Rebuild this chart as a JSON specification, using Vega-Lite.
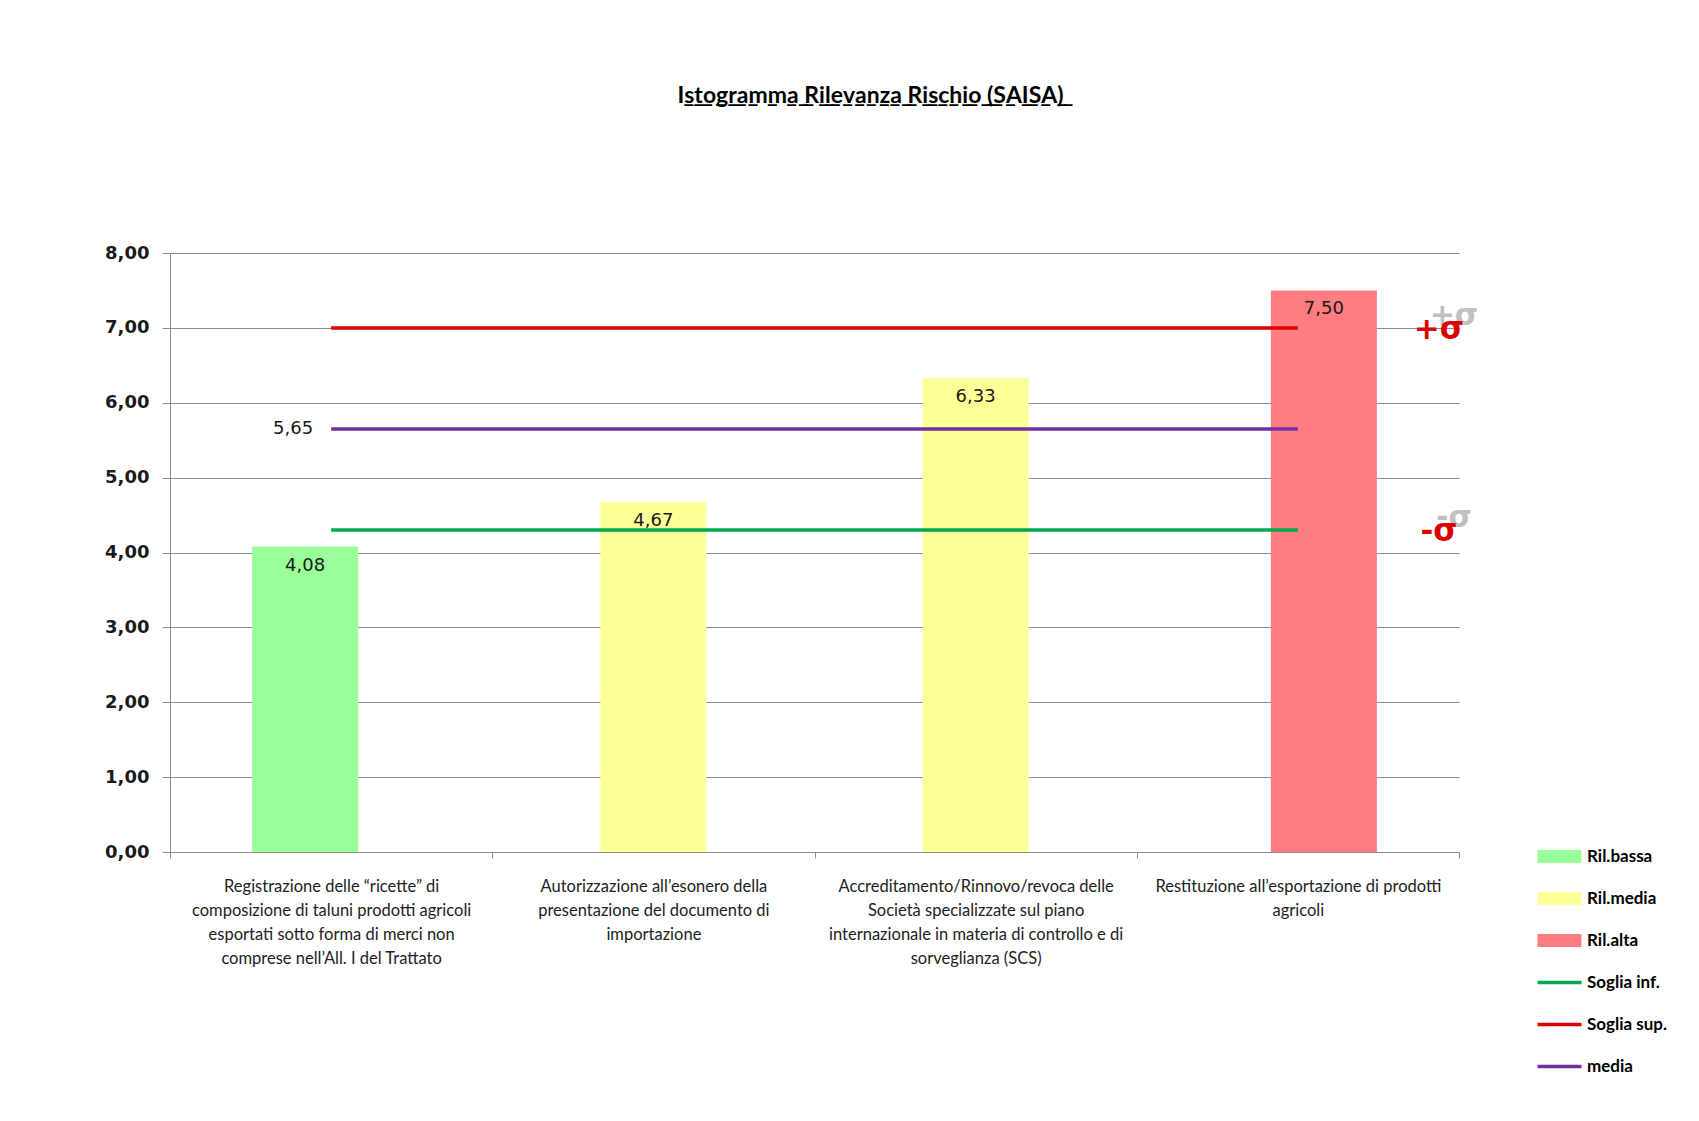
{
  "$schema": "https://vega.github.io/schema/vega-lite/v6.json",
  "autosize": "none",
  "width": 1289,
  "height": 599,
  "padding": {"left": 170, "top": 253, "right": 240, "bottom": 269},
  "background": "white",
  "title": {
    "text": "I\u0332s\u0332t\u0332o\u0332g\u0332r\u0332a\u0332m\u0332m\u0332a\u0332 \u0332R\u0332i\u0332l\u0332e\u0332v\u0332a\u0332n\u0332z\u0332a\u0332 \u0332R\u0332i\u0332s\u0332c\u0332h\u0332i\u0332o\u0332 \u0332(\u0332S\u0332A\u0332I\u0332S\u0332A\u0332)\u0332",
    "anchor": "middle",
    "frame": "group",
    "dx": 56,
    "offset": 136,
    "font": "Lato",
    "fontSize": 23,
    "fontWeight": "bold",
    "color": "#000000"
  },
  "config": {
    "view": {"stroke": null}
  },
  "datasets": {
    "bars": [
      {"cat": "Registrazione delle “ricette” di composizione di taluni prodotti agricoli esportati sotto forma di merci non comprese nell’All. I del Trattato", "serie": "Ril.bassa", "value": 4.08},
      {"cat": "Autorizzazione all’esonero della presentazione del documento di importazione", "serie": "Ril.media", "value": 4.67},
      {"cat": "Accreditamento/Rinnovo/revoca delle Società specializzate sul piano internazionale in materia di controllo e di sorveglianza (SCS)", "serie": "Ril.media", "value": 6.33},
      {"cat": "Restituzione all’esportazione di prodotti agricoli", "serie": "Ril.alta", "value": 7.50}
    ],
    "lines": [
      {"cat": "Registrazione delle “ricette” di composizione di taluni prodotti agricoli esportati sotto forma di merci non comprese nell’All. I del Trattato", "serie": "Soglia inf.", "value": 4.30},
      {"cat": "Autorizzazione all’esonero della presentazione del documento di importazione", "serie": "Soglia inf.", "value": 4.30},
      {"cat": "Accreditamento/Rinnovo/revoca delle Società specializzate sul piano internazionale in materia di controllo e di sorveglianza (SCS)", "serie": "Soglia inf.", "value": 4.30},
      {"cat": "Restituzione all’esportazione di prodotti agricoli", "serie": "Soglia inf.", "value": 4.30},
      {"cat": "Registrazione delle “ricette” di composizione di taluni prodotti agricoli esportati sotto forma di merci non comprese nell’All. I del Trattato", "serie": "Soglia sup.", "value": 7.00},
      {"cat": "Autorizzazione all’esonero della presentazione del documento di importazione", "serie": "Soglia sup.", "value": 7.00},
      {"cat": "Accreditamento/Rinnovo/revoca delle Società specializzate sul piano internazionale in materia di controllo e di sorveglianza (SCS)", "serie": "Soglia sup.", "value": 7.00},
      {"cat": "Restituzione all’esportazione di prodotti agricoli", "serie": "Soglia sup.", "value": 7.00},
      {"cat": "Registrazione delle “ricette” di composizione di taluni prodotti agricoli esportati sotto forma di merci non comprese nell’All. I del Trattato", "serie": "media", "value": 5.65},
      {"cat": "Autorizzazione all’esonero della presentazione del documento di importazione", "serie": "media", "value": 5.65},
      {"cat": "Accreditamento/Rinnovo/revoca delle Società specializzate sul piano internazionale in materia di controllo e di sorveglianza (SCS)", "serie": "media", "value": 5.65},
      {"cat": "Restituzione all’esportazione di prodotti agricoli", "serie": "media", "value": 5.65}
    ],
    "meanlabel": [
      {"cat": "Registrazione delle “ricette” di composizione di taluni prodotti agricoli esportati sotto forma di merci non comprese nell’All. I del Trattato", "value": 5.65}
    ],
    "sigma": [
      {"cat": "Restituzione all’esportazione di prodotti agricoli", "value": 7.00, "sym": "+σ"},
      {"cat": "Restituzione all’esportazione di prodotti agricoli", "value": 4.30, "sym": "-σ"}
    ]
  },
  "encoding": {
    "x": {
      "field": "cat",
      "type": "nominal",
      "sort": null,
      "scale": {"domain": [
        "Registrazione delle “ricette” di composizione di taluni prodotti agricoli esportati sotto forma di merci non comprese nell’All. I del Trattato",
        "Autorizzazione all’esonero della presentazione del documento di importazione",
        "Accreditamento/Rinnovo/revoca delle Società specializzate sul piano internazionale in materia di controllo e di sorveglianza (SCS)",
        "Restituzione all’esportazione di prodotti agricoli"
      ], "paddingInner": 0, "paddingOuter": 0},
      "axis": {
        "title": null,
        "labelAngle": 0,
        "tickBand": "extent",
        "grid": false,
        "domainColor": "#8c8c8c",
        "tickColor": "#8c8c8c",
        "tickSize": 6,
        "labelPadding": 20,
        "labelFont": "Lato",
        "labelFontSize": 16.5,
        "labelColor": "#222222",
        "labelLimit": 0,
        "labelLineHeight": 24,
        "labelBaseline": "top",
        "labelExpr": "!isString(datum.value) ? '' : indexof(datum.value,'Registrazione')==0 ? ['Registrazione delle “ricette” di','composizione di taluni prodotti agricoli','esportati sotto forma di merci non','comprese nell’All. I del Trattato'] : indexof(datum.value,'Autorizzazione')==0 ? ['Autorizzazione all’esonero della','presentazione del documento di','importazione'] : indexof(datum.value,'Accreditamento')==0 ? ['Accreditamento/Rinnovo/revoca delle','Società specializzate sul piano','internazionale in materia di controllo e di','sorveglianza (SCS)'] : indexof(datum.value,'Restituzione')==0 ? ['Restituzione all’esportazione di prodotti','agricoli'] : ''"
      }
    },
    "y": {
      "field": "value",
      "type": "quantitative",
      "scale": {"domain": [0, 8], "nice": false},
      "axis": {
        "title": null,
        "values": [0, 1, 2, 3, 4, 5, 6, 7, 8],
        "labelExpr": "replace(format(datum.value, '.2f'), '.', ',')",
        "grid": true,
        "gridColor": "#8c8c8c",
        "domainColor": "#8c8c8c",
        "tickColor": "#8c8c8c",
        "tickSize": 8,
        "labelPadding": 13,
        "labelFont": "DejaVu Sans",
        "labelFontSize": 18,
        "labelFontWeight": "bold",
        "labelColor": "#1a1a1a"
      }
    }
  },
  "layer": [
    {
      "data": {"name": "bars"},
      "mark": {"type": "bar", "width": 106, "xOffset": {"expr": "datum.serie == 'Ril.bassa' ? -26 : datum.serie == 'Ril.alta' ? 26 : 0"}},
      "encoding": {
        "color": {
          "field": "serie",
          "type": "nominal",
          "scale": {
            "domain": ["Ril.bassa", "Ril.media", "Ril.alta", "Soglia inf.", "Soglia sup.", "media"],
            "range": ["#99ff99", "#ffff99", "#ff7c80", "#00a850", "#e00000", "#7030a0"]
          },
          "legend": {
            "title": null,
            "orient": "none",
            "legendX": 1381,
            "legendY": 595,
            "padding": 0,
            "symbolSize": 1936,
            "rowPadding": 24,
            "labelOffset": 19,
            "labelFont": "Lato",
            "labelFontSize": 17,
            "labelFontWeight": "bold",
            "labelColor": "#000000",
            "encode": {
              "symbols": {
                "update": {
                  "shape": {"signal": "indexof(['Soglia inf.','Soglia sup.','media'], datum.value) >= 0 ? 'stroke' : 'M-1,-0.3H1V0.3H-1Z'"},
                  "fill": {"signal": "indexof(['Soglia inf.','Soglia sup.','media'], datum.value) >= 0 ? 'transparent' : scale('color', datum.value)"},
                  "stroke": {"signal": "scale('color', datum.value)"},
                  "strokeWidth": {"signal": "indexof(['Soglia inf.','Soglia sup.','media'], datum.value) >= 0 ? 3.5 : 0"},
                  "opacity": {"value": 1}
                }
              }
            }
          }
        }
      }
    },
    {
      "data": {"name": "bars"},
      "mark": {"type": "text", "baseline": "middle", "align": "center", "dy": 19, "font": "DejaVu Sans", "fontSize": 18, "color": "#1a1a1a", "xOffset": {"expr": "datum.serie == 'Ril.bassa' ? -26 : datum.serie == 'Ril.alta' ? 26 : 0"}, "text": {"expr": "replace(format(datum.value, '.2f'), '.', ',')"}},
      "encoding": {}
    },
    {
      "data": {"name": "lines"},
      "mark": {"type": "line", "strokeWidth": 3.5},
      "encoding": {
        "color": {
          "field": "serie",
          "type": "nominal",
          "scale": {
            "domain": ["Ril.bassa", "Ril.media", "Ril.alta", "Soglia inf.", "Soglia sup.", "media"],
            "range": ["#99ff99", "#ffff99", "#ff7c80", "#00a850", "#e00000", "#7030a0"]
          }
        }
      }
    },
    {
      "data": {"name": "meanlabel"},
      "mark": {"type": "text", "baseline": "middle", "align": "right", "dx": -18, "font": "DejaVu Sans", "fontSize": 18, "color": "#1a1a1a", "text": {"expr": "replace(format(datum.value, '.2f'), '.', ',')"}},
      "encoding": {}
    },
    {
      "data": {"name": "sigma"},
      "mark": {"type": "text", "baseline": "middle", "align": "center", "dx": 156, "dy": -12, "font": "DejaVu Sans", "fontSize": 30, "fontWeight": "bold", "color": "#c0c0c0"},
      "encoding": {
        "text": {"field": "sym", "type": "nominal"}
      }
    },
    {
      "data": {"name": "sigma"},
      "mark": {"type": "text", "baseline": "middle", "align": "center", "dx": 141, "dy": 2, "font": "DejaVu Sans", "fontSize": 31, "fontWeight": "bold", "color": "#dd0000"},
      "encoding": {
        "text": {"field": "sym", "type": "nominal"}
      }
    }
  ]
}
